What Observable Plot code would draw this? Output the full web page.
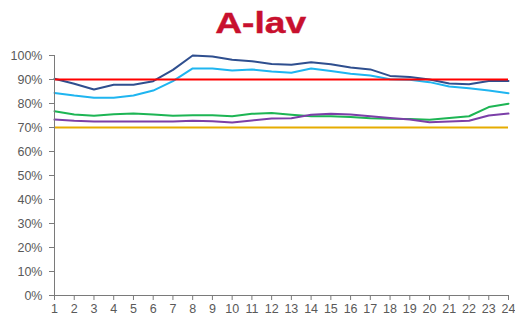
<!DOCTYPE html>
<html>
<head>
<meta charset="utf-8">
<script src="https://cdn.jsdelivr.net/npm/d3@7"></script>
<script src="https://cdn.jsdelivr.net/npm/@observablehq/plot@0.6"></script>
<style>
  body { margin: 0; background: #fff; font-family: "Liberation Sans", Arial, sans-serif; }
  #title { box-sizing: border-box; height: 44px; padding-top: 1px; width: 515px; text-align: center; line-height: 44px; }
  #title span { display: inline-block; color: #C8102E; font-weight: bold; font-size: 30px; transform: scaleX(1.24); margin-left: 6px; -webkit-text-stroke: 0.4px #C8102E; }
</style>
</head>
<body>
<div id="title"><span>A-lav</span></div>
<div id="chart"></div>
<script>
const hours = [1,2,3,4,5,6,7,8,9,10,11,12,13,14,15,16,17,18,19,20,21,22,23,24];
const darkBlue = [90.3,88.2,85.8,87.8,87.8,89.3,94,100,99.6,98.2,97.6,96.5,96.1,97.2,96.4,95,94.2,91.5,91,90,88.3,88,89.4,89.4];
const lightBlue = [84.4,83.3,82.4,82.4,83.3,85.4,89.3,94.6,94.6,93.8,94.2,93.3,92.8,94.6,93.5,92.4,91.7,90.1,89.9,88.9,87.1,86.4,85.4,84.3];
const green = [76.8,75.4,74.9,75.5,75.8,75.4,74.9,75.1,75.1,74.7,75.7,76,75.3,74.7,74.7,74.4,73.9,73.6,73.5,73.2,74,74.7,78.5,79.9];
const purple = [73.3,72.8,72.5,72.5,72.5,72.5,72.5,72.8,72.6,72.1,72.9,73.75,73.9,75.3,75.7,75.4,74.7,74,73.3,72.2,72.5,72.8,75,75.8];
const targetHigh = 90;
const targetLow = 70;
const yTicks = [0,10,20,30,40,50,60,70,80,90,100];

const series = [
  {name: "S1", values: darkBlue, color: "#2F4F8F"},
  {name: "S2", values: lightBlue, color: "#1FB5F0"},
  {name: "S3", values: green, color: "#1DB554"},
  {name: "S4", values: purple, color: "#7B3FA8"}
];
const rows = series.flatMap(s => s.values.map((v, i) => ({series: s.name, hour: hours[i], value: v})));

const chart = Plot.plot({
  width: 515,
  height: 273,
  marginLeft: 54,
  marginRight: 7,
  marginTop: 11,
  marginBottom: 22,
  style: {fontFamily: "'Liberation Sans', Arial, sans-serif", fontSize: "12.5px", color: "#595959", background: "#fff"},
  x: {type: "linear", domain: [1, 24]},
  y: {domain: [0, 100]},
  color: {type: "ordinal", domain: series.map(s => s.name), range: series.map(s => s.color)},
  marks: [
    Plot.ruleY([targetLow], {stroke: "#E6AC00", strokeWidth: 2}),
    Plot.line(rows, {x: "hour", y: "value", z: "series", stroke: "series", strokeWidth: 2}),
    Plot.ruleY([targetHigh], {stroke: "#FF0000", strokeWidth: 2}),
    Plot.axisY({ticks: yTicks, tickFormat: d => d + "%", tickSize: 5, tickPadding: 7, stroke: "#7a7a7a", fill: "#595959", label: null}),
    Plot.axisX({ticks: hours, tickFormat: d => String(d), tickSize: 5, tickPadding: 4, stroke: "#7a7a7a", fill: "#595959", label: null}),
    Plot.ruleX([1], {stroke: "#7a7a7a"}),
    Plot.ruleY([0], {stroke: "#7a7a7a"})
  ]
});
document.getElementById("chart").appendChild(chart);
</script>
</body>
</html>
